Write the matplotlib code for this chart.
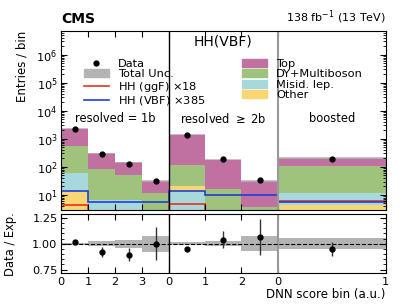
import numpy as np
import matplotlib
matplotlib.use("Agg")
import matplotlib.pyplot as plt
from matplotlib.patches import Patch
from matplotlib.lines import Line2D

# bins: resolved = 1b (4), resolved >= 2b (3), boosted (1)
edges = [0, 0.25, 0.5, 0.75, 1.0, 4/3, 5/3, 2.0, 3.0]
tick_labels = ["0", "1", "2", "3", "0", "1", "2", "0", "1"]
regions = ["resolved = 1b", r"resolved $\geq$ 2b", "boosted"]

# background yields
other = [14, 0.5, 0.5, 0.5, 7, 0.5, 0.3, 4.4]
misid = [46, 6.1, 6.1, 1.5, 13, 1.5, 0.7, 7.1]
dy = [500, 78, 45, 10, 92, 14, 2.6, 92]
top = [1730, 225, 95, 20, 1280, 162, 28.4, 102]
# which of other/misid sits at the bottom in each bin
other_first = [True, True, True, True, False, True, True, True]

unc_rel = [0.01, 0.027, 0.04, 0.078, 0.012, 0.027, 0.07, 0.055]

data = [2330, 285, 131, 32, 1320, 185, 34, 195]
data_err = [25, 15, 9, 5, 25, 14, 5.5, 13]

hh_ggf = [4.4, 1, 1, 1, 4.6, 1, 1, 6.3]
hh_vbf = [14, 5.8, 5.8, 5.8, 14, 10, 10, 5.5]

c_top = "#c171a1"
c_dy = "#9fc27c"
c_misid = "#a7d9dc"
c_other = "#f8d674"
c_unc = "#b4b4b4"

edges = np.array(edges)
lefts = edges[:-1]
widths = np.diff(edges)
centers = lefts + widths / 2
other = np.array(other); misid = np.array(misid)
dy = np.array(dy); top = np.array(top)
total = other + misid + dy + top
unc_rel = np.array(unc_rel)
data = np.array(data); data_err = np.array(data_err)

fig = plt.figure(figsize=(4.07, 3.05), dpi=100)
ax = fig.add_axes([0.150, 0.313, 0.798, 0.585])
rax = fig.add_axes([0.150, 0.104, 0.798, 0.194])

#stack, per bin order for the two small ones
base = np.full(len(lefts), 1e-3)
first = np.where(other_first, other, misid)
second = np.where(other_first, misid, other)
col1 = [c_other if f else c_misid for f in other_first]
col2 = [c_misid if f else c_other for f in other_first]
ax.bar(lefts, first, widths, bottom=base, align="edge", color=col1, lw=0)
ax.bar(lefts, second, widths, bottom=base + first, align="edge", color=col2, lw=0)
ax.bar(lefts, dy, widths, bottom=base + first + second, align="edge", color=c_dy, lw=0)
ax.bar(lefts, top, widths, bottom=base + first + second + dy, align="edge", color=c_top, lw=0)
# total unc
ax.bar(lefts, 2 * unc_rel * total + total * 0.04, widths, bottom=total * (1 - unc_rel - 0.02),
       align="edge", color=c_unc, lw=0, alpha=0.8)

ax.stairs(hh_ggf, edges, color="#e8321e", lw=1.2, baseline=None)
ax.stairs(hh_vbf, edges, color="#1f3fd6", lw=1.2, baseline=None)

ax.errorbar(centers, data, yerr=data_err, fmt="o", color="black", ms=3.5, lw=1)

ax.set_yscale("log")
ax.set_ylim(3, 7e6)
ax.set_xlim(0, 3)
for a in (ax, rax):
    a.axvline(1, color="black", lw=1)
    a.axvline(2, color="#999999", lw=1.5)
    a.set_xticks(edges)
    a.tick_params(direction="in", which="both", top=True, right=True, labelsize=8.2, pad=2.5)
    a.tick_params(which="major", length=4)
    a.tick_params(which="minor", length=2)
ax.set_xticklabels([])
rax.set_xticklabels(tick_labels)
rax.set_xlim(0, 3)

for i, r in enumerate(regions):
    ax.text(i + 0.5, 0.51, r, transform=ax.get_xaxis_transform(), ha="center", va="center", fontsize=8.3)
ax.text(0.5, 0.94, "HH(VBF)", transform=ax.transAxes, ha="center", va="center", fontsize=10)

handles = [
    Line2D([], [], color="black", marker="o", ms=3.5, ls="none"),
    Patch(color=c_unc),
    Line2D([], [], color="#e8321e", lw=1.2),
    Line2D([], [], color="#1f3fd6", lw=1.2),
    Patch(color=c_top),
    Patch(color=c_dy),
    Patch(color=c_misid),
    Patch(color=c_other),
]
labels = ["Data", "Total Unc.", r"HH (ggF) $\times$18", r"HH (VBF) $\times$385",
          "Top", "DY+Multiboson", "Misid. lep.", "Other"]
ax.legend(handles, labels, ncol=2, loc="upper center", bbox_to_anchor=(0.5, 0.89),
          frameon=False, fontsize=8.2, labelspacing=0.05, handlelength=2.2,
          handletextpad=0.8, columnspacing=3.2, borderpad=0.2)

ax.set_ylabel("Entries / bin", fontsize=8.5, loc="top")

# ratio
rax.bar(lefts, 2 * unc_rel, widths, bottom=1 - unc_rel, align="edge", color=c_unc, lw=0)
rax.axhline(1, color="black", ls="--", lw=0.8)
rax.errorbar(centers, data / total, yerr=data_err / total, fmt="o", color="black", ms=3.5, lw=1,
             ecolor="#333333")
rax.set_ylim(0.715, 1.285)
rax.set_yticks([0.75, 1.0, 1.25])
rax.set_yticks(np.arange(0.75, 1.27, 0.05), minor=True)
rax.set_ylabel("Data / Exp.", fontsize=8.3)
rax.set_xlabel("DNN score bin (a.u.)", fontsize=8.5, loc="right", labelpad=1)
ax.yaxis.set_label_coords(-0.1, 1.0)
rax.yaxis.set_label_coords(-0.135, 0.5)

fig.text(0.150, 0.915, "CMS", fontsize=10, fontweight="bold", ha="left", va="bottom")
fig.text(0.948, 0.915, r"138 fb$^{-1}$ (13 TeV)", fontsize=8, ha="right", va="bottom")

fig.savefig("out.png", dpi=100)
